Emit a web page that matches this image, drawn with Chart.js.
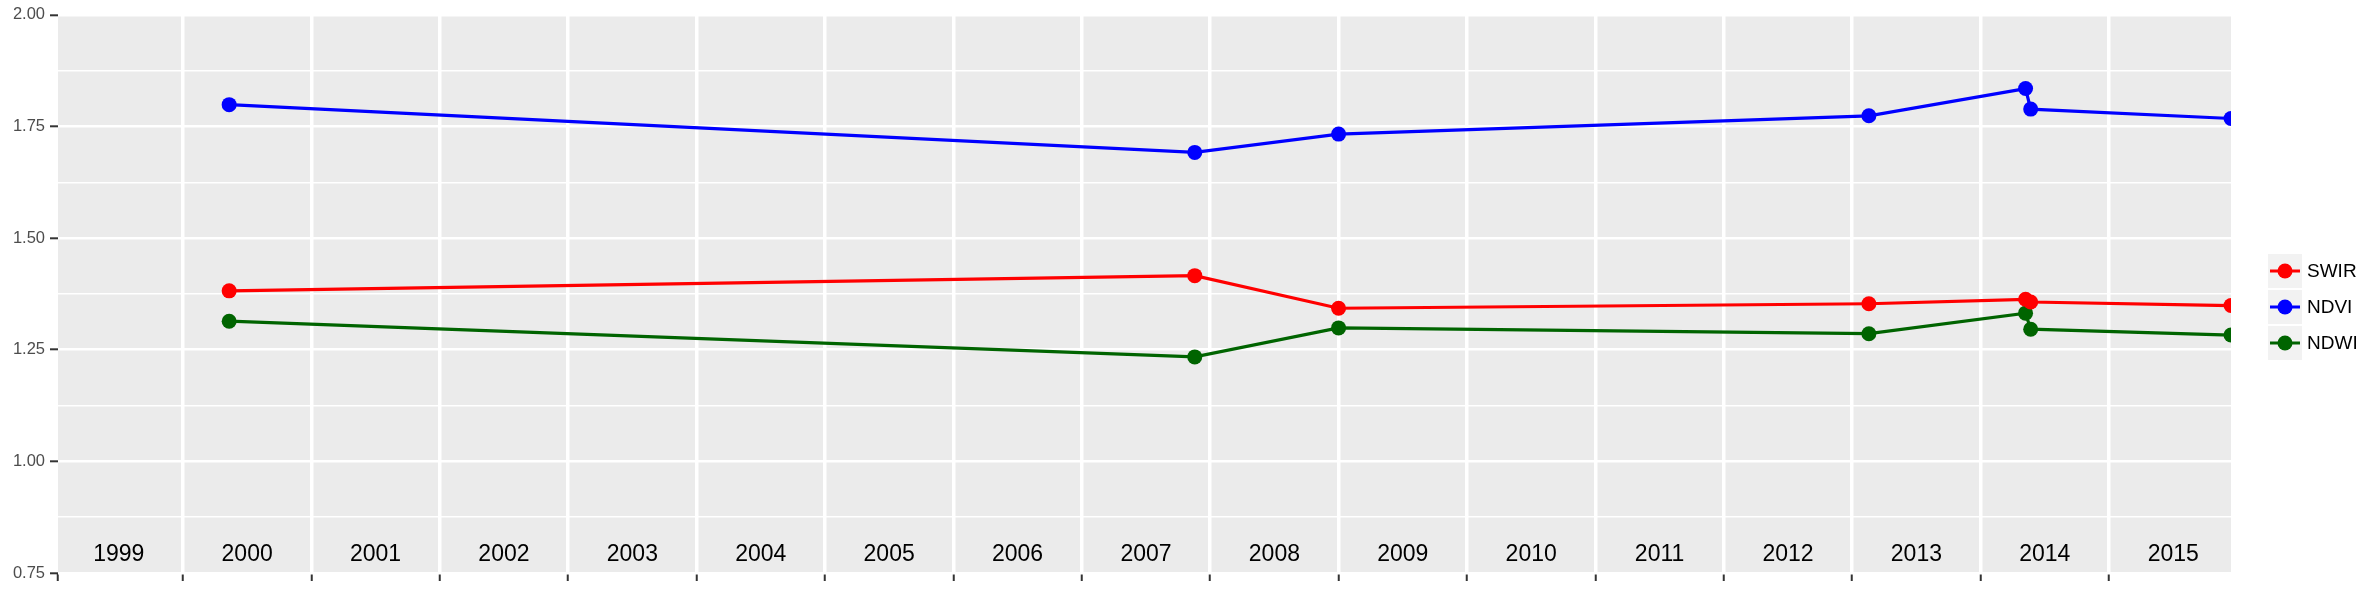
<!DOCTYPE html>
<html>
<head>
<meta charset="utf-8">
<script src="https://cdn.jsdelivr.net/npm/chart.js@4"></script>
<style>
  html, body { margin: 0; padding: 0; background: #fff; }
  #wrap { position: relative; width: 2378px; height: 593px; }
</style>
</head>
<body>
<div id="wrap"><canvas id="Chart"></canvas></div>
<script>
  // acquisition dates as decimal years
  const sampleDates = [2000.36, 2007.88, 2009.0, 2013.13, 2014.35, 2014.39, 2015.95];
  const swir = [1.382, 1.416, 1.343, 1.353, 1.363, 1.357, 1.349];
  const ndvi = [1.799, 1.692, 1.733, 1.774, 1.835, 1.789, 1.768];
  const ndwi = [1.314, 1.234, 1.299, 1.286, 1.332, 1.296, 1.283];

  const seriesNames = ["SWIR", "NDVI", "NDWI"];
  const seriesColors = ["#FF0000", "#0000FF", "#006400"];

  const yearLabels = ["1999", "2000", "2001", "2002", "2003", "2004", "2005", "2006", "2007",
    "2008", "2009", "2010", "2011", "2012", "2013", "2014", "2015"];
  const yearBreaks = [2000, 2001, 2002, 2003, 2004, 2005, 2006, 2007, 2008,
    2009, 2010, 2011, 2012, 2013, 2014, 2015];
  const yTicks = [0.75, 1.0, 1.25, 1.5, 1.75, 2.0];

  const xMin = 1999.027;
  const xMax = 2015.95;
  const FONT = "'Liberation Sans', Arial, sans-serif";

  function toPoints(values) {
    return values.map((v, i) => ({ x: sampleDates[i], y: v }));
  }

  const allSeries = [swir, ndvi, ndwi];

  // grey panel behind the grid
  const panelBg = {
    id: "panelBg",
    beforeDraw(chart) {
      const { ctx, chartArea } = chart;
      ctx.save();
      ctx.fillStyle = "#EBEBEB";
      ctx.fillRect(chartArea.left, chartArea.top, chartArea.right - chartArea.left, chartArea.bottom - chartArea.top);
      ctx.restore();
    },
  };

  // year names sit inside the panel, between the year lines
  const yearText = {
    id: "yearText",
    beforeDatasetsDraw(chart) {
      const { ctx } = chart;
      const xs = chart.scales.x;
      ctx.save();
      ctx.font = "23px " + FONT;
      ctx.fillStyle = "#000";
      ctx.textAlign = "center";
      ctx.textBaseline = "middle";
      yearLabels.forEach((lab) => {
        const px = xs.getPixelForValue(Number(lab) + 0.5);
        ctx.fillText(lab, px, 555);
      });
      ctx.restore();
    },
  };

  // ggplot style legend with grey keys
  const sideLegend = {
    id: "sideLegend",
    afterDraw(chart) {
      const { ctx } = chart;
      const left = chart.chartArea.right + 37;
      const top = 254;
      ctx.save();
      seriesNames.forEach((name, i) => {
        const y = top + i * 36;
        ctx.fillStyle = "#F2F2F2";
        ctx.fillRect(left, y, 34, 34);
        ctx.strokeStyle = seriesColors[i];
        ctx.lineWidth = 3;
        ctx.beginPath();
        ctx.moveTo(left + 2, y + 17);
        ctx.lineTo(left + 32, y + 17);
        ctx.stroke();
        ctx.fillStyle = seriesColors[i];
        ctx.beginPath();
        ctx.arc(left + 17, y + 17, 7.5, 0, Math.PI * 2);
        ctx.fill();
        ctx.fillStyle = "#000";
        ctx.font = "19px " + FONT;
        ctx.textBaseline = "middle";
        ctx.fillText(name, left + 39, y + 18);
      });
      ctx.restore();
    },
  };

  const ctx = document.getElementById("Chart").getContext("2d");

  new Chart(ctx, {
    type: "line",
    data: {
      datasets: seriesNames.map((name, i) => ({
        label: name,
        data: toPoints(allSeries[i]),
        borderColor: seriesColors[i],
        backgroundColor: seriesColors[i],
        pointBackgroundColor: seriesColors[i],
        pointBorderWidth: 0,
        pointRadius: 7.5,
        borderWidth: 3.2,
        tension: 0,
        fill: false,
        clip: 0,
      })),
    },
    options: {
      responsive: true,
      maintainAspectRatio: false,
      animation: false,
      devicePixelRatio: 1,
      layout: { padding: { left: 0, top: 12, right: 147, bottom: 0 } },
      plugins: {
        legend: { display: false },
        tooltip: { enabled: false },
      },
      scales: {
        x: {
          type: "linear",
          min: xMin,
          max: xMax,
          afterBuildTicks(scale) {
            scale.ticks = [xMin].concat(yearBreaks).map((v) => ({ value: v }));
          },
          afterFit(scale) {
            scale.height = 20;
          },
          ticks: { display: false },
          border: { display: false },
          grid: {
            color: (c) => (c.tick && c.tick.value === xMin ? "rgba(0,0,0,0)" : "#FFFFFF"),
            lineWidth: 3.5,
            drawTicks: true,
            tickLength: 8,
            tickColor: "#333333",
            tickWidth: 2,
          },
        },
        y: {
          min: 0.75,
          max: 2.0,
          afterBuildTicks(scale) {
            const t = [];
            for (let i = 0; i < yTicks.length; i++) {
              t.push({ value: yTicks[i] });
              if (i < yTicks.length - 1) t.push({ value: (yTicks[i] + yTicks[i + 1]) / 2 });
            }
            scale.ticks = t;
          },
          afterFit(scale) {
            scale.width = 58;
          },
          border: { display: false },
          ticks: {
            padding: 5,
            color: "#4D4D4D",
            font: { family: FONT, size: 16.5 },
            callback: (v) => (yTicks.includes(v) ? v.toFixed(2) : ""),
          },
          grid: {
            color: "#FFFFFF",
            lineWidth: (c) => (c.tick && yTicks.includes(c.tick.value) ? 2.6 : 1.4),
            drawTicks: true,
            tickLength: 8,
            tickColor: (c) => (c.tick && yTicks.includes(c.tick.value) ? "#333333" : "rgba(0,0,0,0)"),
            tickWidth: 2,
          },
        },
      },
    },
    plugins: [panelBg, yearText, sideLegend],
  });
</script>
</body>
</html>
